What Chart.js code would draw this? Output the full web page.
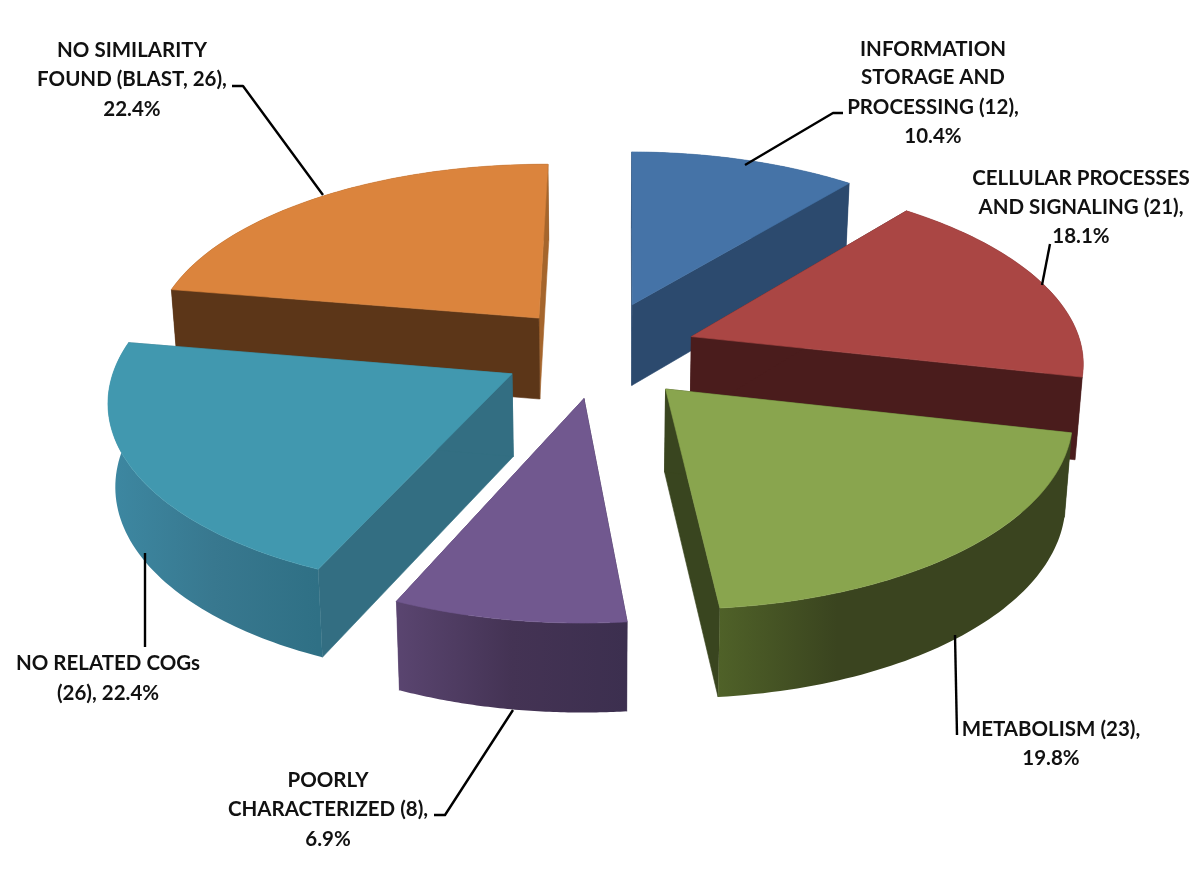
<!DOCTYPE html>
<html><head><meta charset="utf-8">
<style>html,body{margin:0;padding:0;background:#fff}canvas{display:block}</style>
<script src="https://cdn.jsdelivr.net/npm/chart.js@4"></script>
</head><body><canvas id="c" width="1200" height="892"></canvas>
<script>
// ---- data ----
const categories = ["INFORMATION STORAGE AND PROCESSING","CELLULAR PROCESSES AND SIGNALING","METABOLISM","POORLY CHARACTERIZED","NO RELATED COGs","NO SIMILARITY FOUND (BLAST)"];
const counts = [12,21,23,8,26,26];
const labelLines = [
 ["INFORMATION","STORAGE AND","PROCESSING (12),","10.4%"],
 ["CELLULAR PROCESSES","AND SIGNALING (21),","18.1%"],
 ["METABOLISM (23),","19.8%"],
 ["POORLY","CHARACTERIZED (8),","6.9%"],
 ["NO RELATED COGs","(26), 22.4%"],
 ["NO SIMILARITY","FOUND (BLAST, 26),","22.4%"]
];
// ---- styles ----
const topColors = ["#4573a7","#aa4644","#89a54e","#71588f","#4198af","#db843d"];
const wallStops = [
 ["#2c4a6e","#2c4a6e"],["#4a1c1c","#4a1c1c"],["#4f6128","#3a441f","#3a441f","#3a441f"],
 ["#5a4570","#443354","#3c2f4f"],["#3d88a2","#38788f","#2f7085"],["#5c3618","#5c3618"]];
const startWall = ["#2c4a6e","#4a1c1c","#39451f","#3c2f4f","#336e82","#5c3618"];
const endWall   = ["#2c4a6e","#4a1c1c","#39451f","#5a4570","#336e82","#a5652c"];
const explode = [83,90,90,90,90,90];
const nudge = [[4,-2],[0,4],[-2,0],[-5,-4],[-2,-3],[1,6]];
const paintOrder = [0,5,1,4,2,3];
const labelBoxes = [
 {x:933,y:[49,77,107,136]},{x:1081,y:[178,207,236]},{x:1051,y:[729,758]},
 {x:328,y:[780,809,839]},{x:108,y:[663,693]},{x:132,y:[50,79,109]}];
const leaders = [
 [[745,165],[833,113],[843,113]],[[1042,285],[1050,244]],[[955,635],[957,735]],
 [[513,710],[445,815],[434,815]],[[145,553],[145,647]],[[323,195],[243,86],[232,86]]];
// ---- view projection (tilted, perspective) ----
const VIEW = {dy:-96, sx:392, sy:182, p:0.125, h:82, shrink:0.985, explodeX:1.12, explodeY:1.25};
const DEG = Math.PI/180;
function warp(a){
  const th=a/DEG+90, t=(th-199)/15, b=(th-37)/20;
  return a+(0.4+4.8*Math.exp(-t*t)+1.5*Math.exp(-b*b))*DEG;
}
function project(el,X,Y,low,n){
  const d=1-VIEW.p*Y, cx=el.x, cy=el.y+VIEW.dy;
  let u=VIEW.sx*X/d, v=VIEW.sy*Y/d;
  if(low){u*=VIEW.shrink; v+=VIEW.h/Math.sqrt(d);}
  return [cx+u+n[0],cy+v+n[1]];
}
function poly(ctx,pts,fill){
  ctx.beginPath();pts.forEach((p,i)=>i?ctx.lineTo(p[0],p[1]):ctx.moveTo(p[0],p[1]));ctx.closePath();
  ctx.fillStyle=fill;ctx.fill();ctx.strokeStyle=typeof fill==='string'?fill:'rgba(0,0,0,0)';ctx.lineWidth=.6;ctx.stroke();
}
const pie3d = {
  id:'pie3d',
  beforeDatasetsDraw(chart){
    const ctx=chart.ctx, arcs=chart.getDatasetMeta(0).data;
    paintOrder.forEach(i=>{
      const el=arcs[i], R=el.outerRadius, off=el.options.offset/R, nd=nudge[i];
      const mid=(el.startAngle+el.endAngle)/2, ax=Math.cos(mid)*off*VIEW.explodeX, ay=Math.sin(mid)*off*VIEW.explodeY;
      const n=64, rimT=[], rimB=[];
      for(let k=0;k<=n;k++){
        const a=warp(el.startAngle+(el.endAngle-el.startAngle)*k/n);
        const X=ax+Math.cos(a),Y=ay+Math.sin(a);
        rimT.push(project(el,X,Y,false,nd)); rimB.push(project(el,X,Y,true,nd));
      }
      const apT=project(el,ax,ay,false,nd), apB=project(el,ax,ay,true,nd);
      const xs=rimT.map(p=>p[0]), g=ctx.createLinearGradient(Math.min(...xs),0,Math.max(...xs),0);
      wallStops[i].forEach((c,j,arr)=>g.addColorStop(j/(arr.length-1),c));
      const endPoly=[apT,rimT[n],rimB[n],apB], startPoly=[apT,rimT[0],rimB[0],apB];
      // a radial wall whose rim corner lies behind the apex is painted over the outer wall
      const endBack=rimT[n][1]<apT[1], startBack=rimT[0][1]<apT[1];
      if(!endBack) poly(ctx,endPoly,endWall[i]);
      if(!startBack) poly(ctx,startPoly,startWall[i]);
      poly(ctx,rimT.concat(rimB.slice().reverse()),g);
      if(endBack) poly(ctx,endPoly,endWall[i]);
      if(startBack) poly(ctx,startPoly,startWall[i]);
      poly(ctx,[apT].concat(rimT),topColors[i]);
    });
    return false;
  },
  afterDraw(chart){
    const ctx=chart.ctx;
    ctx.save();
    ctx.strokeStyle='#000';ctx.lineWidth=2.4;ctx.lineJoin='round';
    leaders.forEach(l=>{ctx.beginPath();l.forEach((p,i)=>i?ctx.lineTo(p[0],p[1]):ctx.moveTo(p[0],p[1]));ctx.stroke();});
    ctx.fillStyle='#111';ctx.font='bold 20.5px Lato';ctx.textAlign='center';ctx.textBaseline='middle';
    labelLines.forEach((lines,i)=>lines.forEach((t,j)=>ctx.fillText(t,labelBoxes[i].x,labelBoxes[i].y[j])));
    ctx.restore();
  }
};
new Chart(document.getElementById('c'),{
  type:'pie',
  data:{labels:categories,datasets:[{data:counts,backgroundColor:topColors,borderWidth:0,offset:explode}]},
  options:{responsive:false,animation:false,events:[],layout:{padding:0},
    plugins:{legend:{display:false},tooltip:{enabled:false}}},
  plugins:[pie3d]
});
</script></body></html>
